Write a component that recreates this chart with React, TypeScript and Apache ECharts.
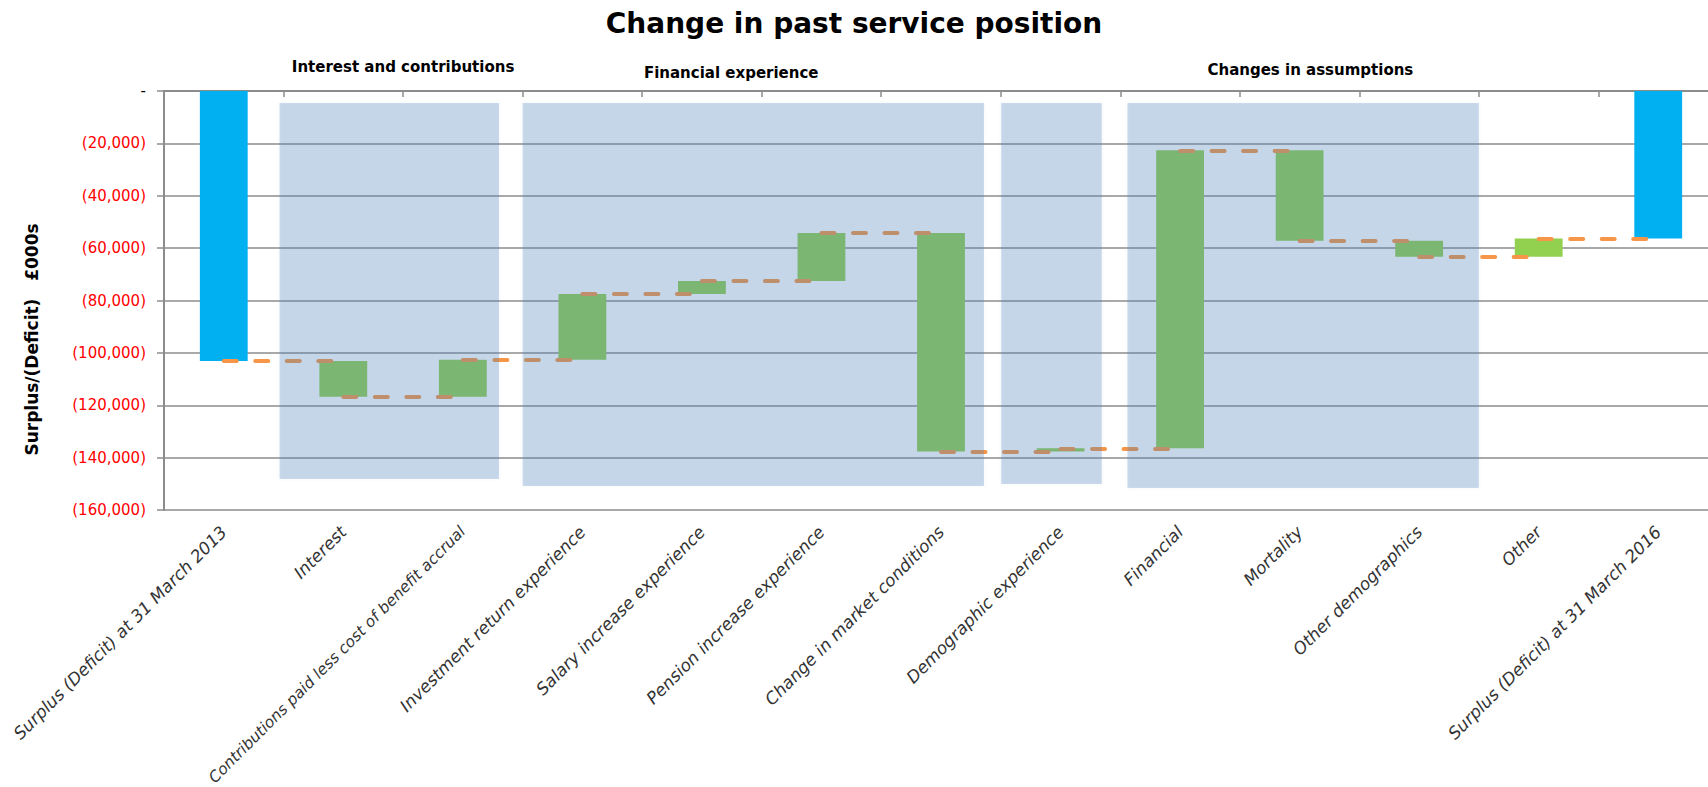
import React, { useEffect, useRef } from "react";
import * as echarts from "echarts";

const categories = [
  "Surplus (Deficit) at 31 March 2013",
  "Interest",
  "Contributions paid less cost of benefit accrual",
  "Investment return experience",
  "Salary increase experience",
  "Pension increase experience",
  "Change in market conditions",
  "Demographic experience",
  "Financial",
  "Mortality",
  "Other demographics",
  "Other",
  "Surplus (Deficit) at 31 March 2016",
];

// Opening position and the movements in between (£000s)
const openingPosition = -103100;
const movements = [-13700, 14200, 25100, 4950, 18350, -83500, 1250, 113800, -34500, -6100, 6950];

const groupLabels = ["Interest and contributions", "Financial experience", "Changes in assumptions"];

const yMin = -160000;
const yMax = 0;
const yStep = 20000;

const FONT = "'DejaVu Sans', 'Noto Sans', sans-serif";
const BLUE = "#00B0F0";
const GREEN = "#92D050";
const ORANGE = "#F79646";
const PANEL = "rgba(79,129,189,0.27)";
const GRID = "#8c8c8c";

// shaded group panels, in category units / value units
const panelSpans = [
  { x0: 0.467, x1: 2.303, top: -4600, bottom: -148150 },
  { x0: 2.5, x1: 6.36, top: -4600, bottom: -150800 },
  { x0: 6.504, x1: 7.345, top: -4600, bottom: -150050 },
  { x0: 7.56, x1: 10.5, top: -4600, bottom: -151600 },
];
const groupLabelPos = [
  { u: 1.5, dy: -24 },
  { u: 4.245, dy: -18 },
  { u: 9.09, dy: -21 },
];

export default function App() {
  const ref = useRef<HTMLDivElement>(null);

  useEffect(() => {
    document.body.style.margin = "0";
    if (!ref.current) return;
    const chart = echarts.init(ref.current, null, { renderer: "svg" });

    // running levels
    const levels: number[] = [openingPosition];
    movements.forEach((m) => levels.push(levels[levels.length - 1] + m));
    const closing = levels[levels.length - 1];

    const baseData: number[] = [0];
    const deltaData: any[] = [{ value: openingPosition, itemStyle: { color: BLUE } }];
    movements.forEach((m, i) => {
      const prev = levels[i];
      const next = levels[i + 1];
      const top = Math.max(prev, next);
      const bottom = Math.min(prev, next);
      baseData.push(top);
      deltaData.push({ value: bottom - top, itemStyle: { color: GREEN } });
    });
    baseData.push(0);
    deltaData.push({ value: closing, itemStyle: { color: BLUE } });

    // connectors: level after each bar, from bar i to bar i+1
    const connectors = levels.map((lv, i) => [
      { coord: [categories[i], lv] },
      { coord: [categories[i + 1], lv] },
    ]);

    const fmt = (v: number) => {
      if (v === 0) return "{z|-}";
      return "{r|(" + Math.abs(v).toLocaleString("en-GB") + ")}";
    };

    // the longest category label is set a little smaller so that it stays inside the page
    const bottomCats = categories.map((c) =>
      c.length > 40 ? { value: c, textStyle: { fontSize: 15.5 } } : c
    );

    chart.setOption({
      animation: false,
      textStyle: { fontFamily: FONT },
      title: {
        text: "Change in past service position",
        left: "center",
        top: 4,
        textStyle: { fontFamily: FONT, fontSize: 28, fontWeight: "bold", color: "#000" },
      },
      grid: {
        left: 164,
        width: 1554,
        top: 91,
        bottom: 277,
        containLabel: false,
        outerBoundsMode: "none",
      },
      xAxis: [
        {
          type: "category",
          data: bottomCats,
          position: "bottom",
          axisLine: { show: false },
          axisTick: { show: false },
          axisLabel: {
            interval: 0,
            rotate: 45,
            margin: 19,
            fontFamily: FONT,
            fontSize: 17,
            fontStyle: "italic",
            color: "#333",
          },
        },
        {
          type: "category",
          data: categories,
          position: "top",
          axisLine: { show: true, onZero: false, lineStyle: { color: GRID, width: 2 } },
          axisTick: { show: true, interval: 0, inside: true, length: 6, lineStyle: { color: GRID, width: 1.5 } },
          axisLabel: { show: false, interval: 0 },
        },
      ],
      yAxis: {
        type: "value",
        min: yMin,
        max: yMax,
        interval: yStep,
        axisLine: { show: true, lineStyle: { color: GRID, width: 2 } },
        axisTick: { show: true, length: 7, lineStyle: { color: GRID, width: 1.5 } },
        splitLine: { show: true, lineStyle: { color: GRID, width: 1.5 } },
        axisLabel: {
          margin: 18,
          formatter: fmt,
          rich: {
            r: { color: "#FF0000", fontSize: 15, fontFamily: FONT },
            z: { color: "#000", fontSize: 15, fontFamily: FONT },
          },
        },
      },
      series: [
        {
          name: "base",
          type: "bar",
          stack: "w",
          barWidth: "40%",
          silent: true,
          itemStyle: { color: "transparent" },
          data: baseData,
        },
        {
          name: "movement",
          type: "bar",
          stack: "w",
          barWidth: "40%",
          data: deltaData,
          markLine: {
            silent: true,
            symbol: ["none", "none"],
            label: { show: false },
            lineStyle: { color: ORANGE, width: 4, type: [13, 18.5], cap: "round" },
            data: connectors.slice(0, categories.length - 1),
          },
        },
      ],
    });

    // overlay panels and labels positioned through the axes
    const c0 = chart.convertToPixel({ xAxisIndex: 0 }, categories[0]) as number;
    const c1 = chart.convertToPixel({ xAxisIndex: 0 }, categories[1]) as number;
    const band = c1 - c0;
    const ux = (u: number) => c0 + u * band;
    const vy = (v: number) => chart.convertToPixel({ yAxisIndex: 0 }, v) as number;
    const gridTop = vy(yMax);
    const gridBottom = vy(yMin);

    const graphics: any[] = panelSpans.map((p) => ({
      type: "rect",
      z: 100,
      silent: true,
      shape: { x: ux(p.x0), y: vy(p.top), width: ux(p.x1) - ux(p.x0), height: vy(p.bottom) - vy(p.top) },
      style: { fill: PANEL, shadowBlur: 3, shadowColor: PANEL },
    }));
    groupLabels.forEach((t, i) => {
      graphics.push({
        type: "text",
        z: 100,
        x: ux(groupLabelPos[i].u),
        y: gridTop + groupLabelPos[i].dy,
        style: {
          text: t,
          fontFamily: FONT,
          fontSize: 15,
          fontWeight: "bold",
          fill: "#000",
          align: "center",
          verticalAlign: "middle",
        },
      });
    });
    graphics.push({
      type: "text",
      z: 100,
      x: 32,
      y: (gridTop + gridBottom) / 2 + 39,
      rotation: Math.PI / 2,
      style: {
        text: "Surplus/(Deficit)   £000s",
        fontFamily: FONT,
        fontSize: 17,
        fontWeight: "bold",
        fill: "#000",
        align: "center",
        verticalAlign: "middle",
      },
    });
    chart.setOption({ graphic: graphics });

    return () => chart.dispose();
  }, []);

  return <div ref={ref} style={{ width: 1708, height: 787 }} />;
}
